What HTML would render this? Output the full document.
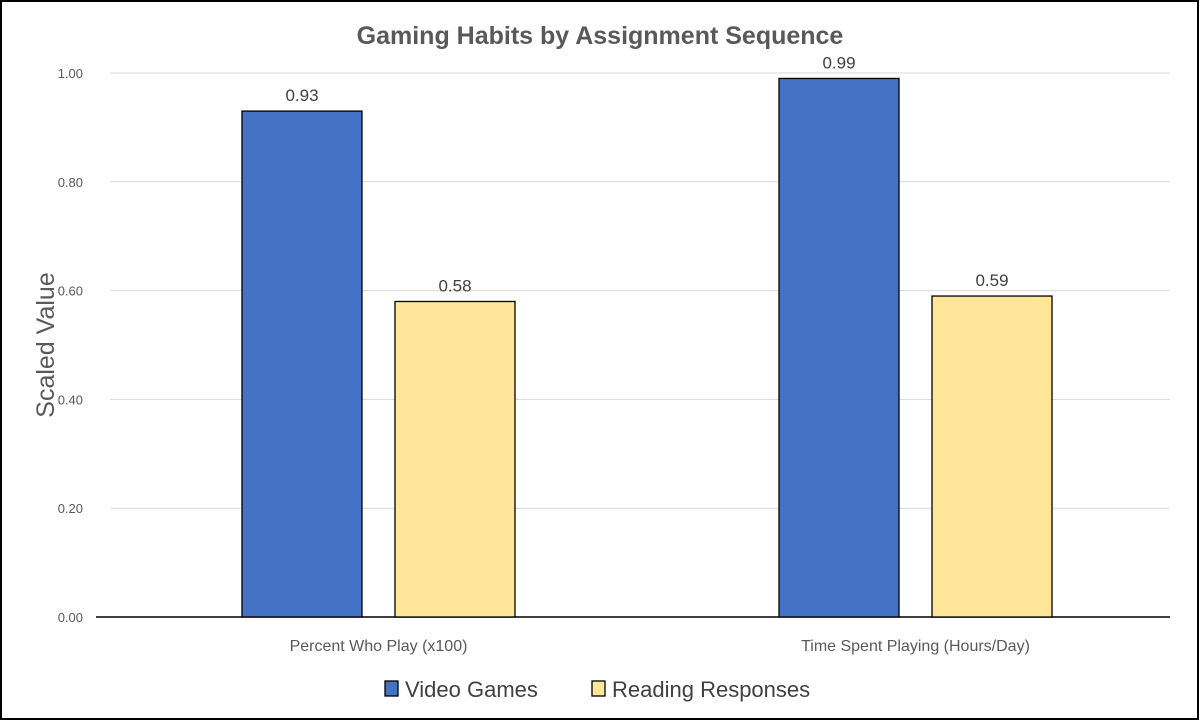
<!DOCTYPE html>
<html><head><meta charset="utf-8"><style>
html,body{margin:0;padding:0;background:#fff}
svg{display:block;font-family:"Liberation Sans",sans-serif}
</style></head><body>
<svg id="chart" width="1200" height="721" viewBox="0 0 1200 721">
<rect x="1" y="1" width="1197" height="718" fill="#fff" stroke="#000" stroke-width="2"/>
<text x="600" y="44" text-anchor="middle" font-size="25" font-weight="bold" fill="#595959">Gaming Habits by Assignment Sequence</text>
<text transform="translate(54,345) rotate(-90)" text-anchor="middle" font-size="25" fill="#595959">Scaled Value</text>
<g id="grid"></g><g id="bars"></g>
<g>
<rect x="385" y="681" width="13" height="15" fill="#4472c4" stroke="#000" stroke-width="1.3"/>
<text x="405" y="697" font-size="22" fill="#404040">Video Games</text>
<rect x="592" y="681" width="13" height="15" fill="#ffe699" stroke="#000" stroke-width="1.3"/>
<text x="612" y="697" font-size="22" fill="#404040">Reading Responses</text>
</g>
</svg>
<script>
const categories = ["Percent Who Play (x100)", "Time Spent Playing (Hours/Day)"];
const videoGames = [0.93, 0.99];
const readingResponses = [0.58, 0.59];
const yTicks = [0, 0.2, 0.4, 0.6, 0.8, 1.0];
const NS = "http://www.w3.org/2000/svg";
const y0 = 617, yTop = 73, xL = 96, xR = 1170;
const yScale = v => y0 - v * (y0 - yTop);
const catW = (xR - xL) / categories.length;
const catCenter = i => xL + catW * (i + 0.5) + 22;
function mk(tag, attrs, parent) { const e = document.createElementNS(NS, tag); for (const k in attrs) e.setAttribute(k, attrs[k]); parent.appendChild(e); return e; }
const grid = document.getElementById('grid'), bars = document.getElementById('bars');
yTicks.forEach(t => {
  const y = yScale(t);
  const l = mk('line', {x1: t === 0 ? xL : 110, x2: xR, y1: y, y2: y, stroke: t === 0 ? '#000' : '#d9d9d9', 'stroke-width': t === 0 ? 1.5 : 1}, grid);
  
  
  const tx = mk('text', {x: 83, y: y + 5, 'text-anchor': 'end', 'font-size': 13, fill: '#595959'}, grid);
  tx.textContent = t.toFixed(2);
  
  
});
const bw = 120, gap = 33;
const series = [{vals: videoGames, color: '#4472c4', name: 'video-games'}, {vals: readingResponses, color: '#ffe699', name: 'reading-responses'}];
categories.forEach((c, i) => {
  const cx = catCenter(i) - 8;
  series.forEach((s, j) => {
    const x = cx - bw - gap / 2 + j * (bw + gap);
    const v = s.vals[i], y = yScale(v);
    const r = mk('rect', {x: x, y: y, width: bw, height: y0 - y, fill: s.color, stroke: '#000', 'stroke-width': 1.3}, bars);
    
    
    const t = mk('text', {x: x + bw / 2, y: y - 10, 'text-anchor': 'middle', 'font-size': 17, fill: '#404040'}, bars);
    t.textContent = v.toFixed(2);
    
    
  });
  const ct = mk('text', {x: cx, y: 651, 'text-anchor': 'middle', 'font-size': 16, fill: '#595959'}, bars);
  ct.textContent = c;
  
  
});
</script>
</body></html>
